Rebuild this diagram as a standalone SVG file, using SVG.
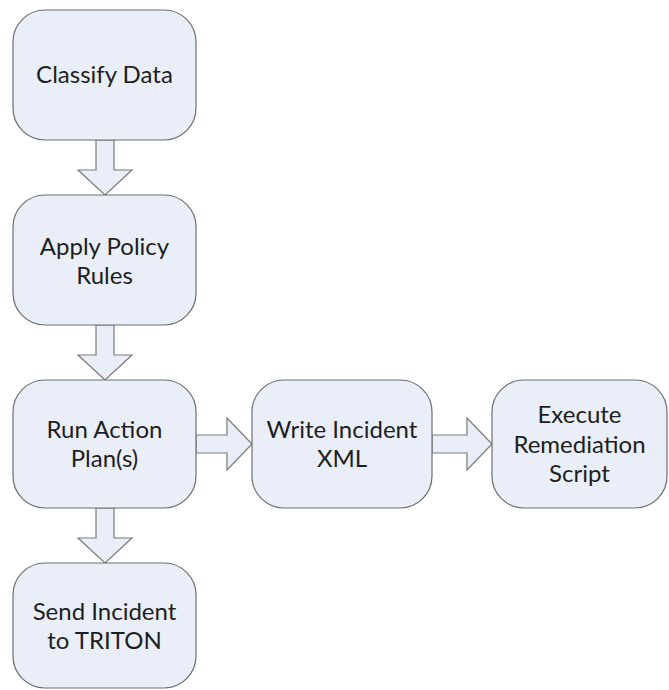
<svg xmlns="http://www.w3.org/2000/svg" width="669" height="690" viewBox="0 0 669 690">
<style>
.box{fill:#e9eef8;stroke:#6e6e6e;stroke-width:1.2}
.arr{fill:#e9eef8;stroke:#7a7a7a;stroke-width:1.2;stroke-linejoin:miter}
text{font-family:Lato,"Liberation Sans",sans-serif;font-size:24px;fill:#1e1e1e;text-anchor:middle}
</style>
<rect width="669" height="690" fill="#ffffff"/>
<g id="connectors">
<polygon class="arr" points="96,140 114,140 114,170 132,170 105,195 78,170 96,170"/>
<polygon class="arr" points="96,325 114,325 114,355 132,355 105,380 78,355 96,355"/>
<polygon class="arr" points="96,508 114,508 114,538 132,538 105,563 78,538 96,538"/>
<polygon class="arr" points="196,435 227,435 227,418 252,444 227,470 227,453 196,453"/>
<polygon class="arr" points="432,435 467,435 467,418 492,444 467,470 467,453 432,453"/>
</g>
<g id="classify">
<rect class="box" x="13" y="10" width="183" height="130" rx="32"/>
<text x="104.5" y="83">Classify Data</text>
</g>
<g id="apply">
<rect class="box" x="13" y="195" width="183" height="130" rx="32"/>
<text x="104.5" y="255">Apply Policy</text>
<text x="104.5" y="284">Rules</text>
</g>
<g id="run">
<rect class="box" x="13" y="380" width="183" height="128" rx="32"/>
<text x="104.5" y="438">Run Action</text>
<text x="104.5" y="467">Plan(s)</text>
</g>
<g id="write">
<rect class="box" x="252" y="380" width="180" height="128" rx="32"/>
<text x="342" y="438">Write Incident</text>
<text x="342" y="467">XML</text>
</g>
<g id="execute">
<rect class="box" x="492" y="380" width="175" height="128" rx="32"/>
<text x="579.5" y="423">Execute</text>
<text x="579.5" y="453">Remediation</text>
<text x="579.5" y="482">Script</text>
</g>
<g id="send">
<rect class="box" x="13" y="563" width="183" height="125" rx="32"/>
<text x="104.5" y="620">Send Incident</text>
<text x="104.5" y="649">to TRITON</text>
</g>
</svg>
